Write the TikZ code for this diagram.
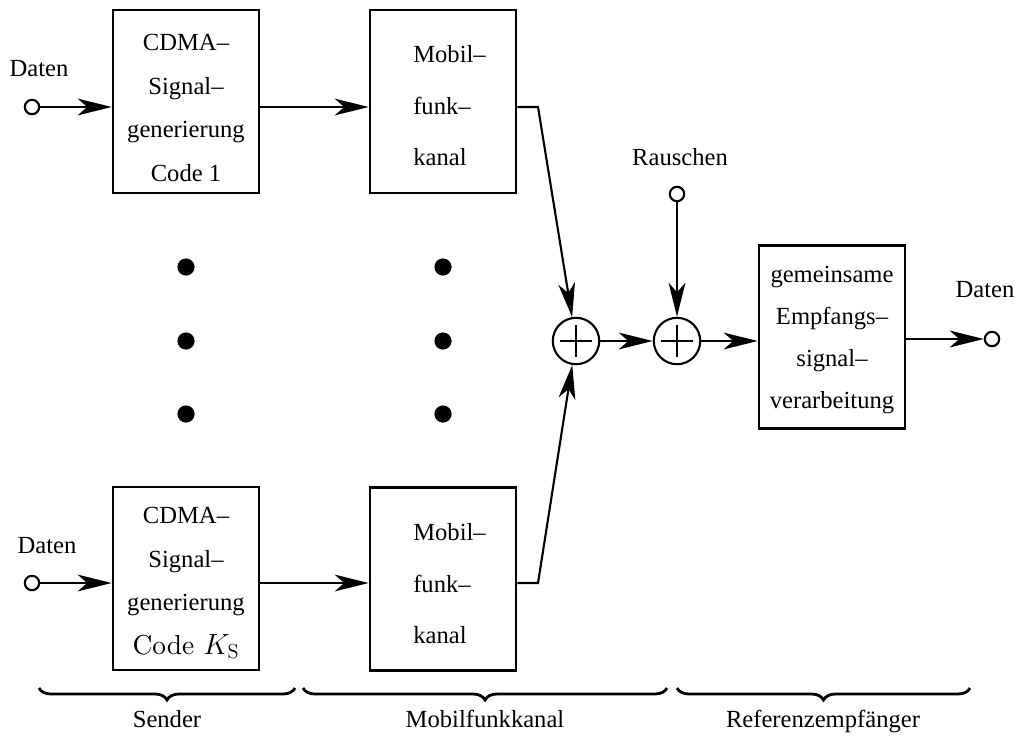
\documentclass[tikz,border=0pt]{standalone}
\usepackage[no-math]{fontspec}
\setmainfont{Liberation Serif}
\newfontfamily\lmfont{lmroman10-regular.otf}
\usetikzlibrary{arrows.meta,decorations.pathreplacing}

\begin{document}
\begin{tikzpicture}[x=0.025cm,y=-0.025cm,
  every node/.style={font=\fontsize{17.5}{21}\selectfont, inner sep=0pt},
  blk/.style={draw, line width=1.9pt, minimum width=3.65cm, minimum height=4.575cm},
  port/.style={draw, circle, line width=1.5pt, fill=white, minimum size=0.36cm},
  adder/.style={draw, circle, line width=1.5pt, minimum size=1.16cm},
  bigdot/.style={circle, fill=black, minimum size=0.43cm},
  conn/.style={line width=1.5pt, -{Stealth[length=0.85cm,width=0.42cm,inset=0.24cm]}},
  wire/.style={line width=1.5pt},
  brc/.style={decorate, decoration={brace, mirror, amplitude=0.3cm}, line width=2pt},
  stxt/.style={align=center, font=\fontsize{17.5}{30.9}\selectfont},
  mtxt/.style={align=left, anchor=west, font=\fontsize{17.5}{36.6}\selectfont},
  rtxt/.style={align=center, font=\fontsize{17.5}{29.7}\selectfont}
]
\useasboundingbox (0,0) rectangle (1016,735);

% transmitter blocks
\node[blk] (s1) at (186,101.5) {};
\node[blk] (s2) at (186,578.5) {};
\node[stxt] (s1t) at (186,108) {CDMA--\\Signal--\\generierung\\Code 1};
\node[stxt] (s2t) at (186,583) {CDMA--\\Signal--\\generierung\\{\lmfont\fontsize{19.5}{30.9}\selectfont Code $K_{\mathrm{S}}$}};

% channel blocks
\node[blk] (m1) at (443,101.5) {};
\node[blk] (m2) at (443,579) {};
\node[mtxt] (m1t) at (413,106) {Mobil--\\funk--\\kanal};
\node[mtxt] (m2t) at (413,584) {Mobil--\\funk--\\kanal};

% receiver block
\node[blk] (r) at (832,337) {};
\node[rtxt] (rt) at (832,340) {gemeinsame\\Empfangs--\\signal--\\verarbeitung};

% terminals and adders
\node[port] (in1) at (32,107) {};
\node[port] (in2) at (32,583) {};
\node[port] (noise) at (677,194) {};
\node[port] (out) at (992,339) {};
\node[adder] (a1) at (576,341) {};
\node[adder] (a2) at (677,341) {};
\foreach \a in {a1,a2}{
  \draw[wire] (\a.center) +(-16,0) -- +(16,0);
  \draw[wire] (\a.center) +(0,-16) -- +(0,16);
}

% continuation dots
\foreach \y [count=\i] in {267,341,414}{
  \node[bigdot] (ds\i) at (186,\y) {};
  \node[bigdot] (dm\i) at (443,\y) {};
}

% labels
\node[anchor=base] (l1) at (39,77) {Daten};
\node[anchor=base] (l2) at (47,553) {Daten};
\node[anchor=base] (l3) at (985,297) {Daten};
\node[anchor=base] (l4) at (680,165) {Rauschen};

% bend points of the channel outputs
\coordinate (k1) at (538,107);
\coordinate (k2) at (538,583);

% signal flow
\draw[conn] (in1) -- (in1 -| s1.west);
\draw[conn] (in2) -- (in2 -| s2.west);
\draw[conn] (s1.east |- in1) -- (m1.west |- in1);
\draw[conn] (s2.east |- in2) -- (m2.west |- in2);
\draw[conn] (m1.east |- in1) -- (k1) -- (a1);
\draw[conn] (m2.east |- in2) -- (k2) -- (a1);
\draw[conn] (a1) -- (a2);
\draw[conn] (noise) -- (a2);
\draw[conn] (a2) -- (r.west |- a2);
\draw[conn] (r.east |- out) -- (out);

% section braces
\draw[brc] (39,688) -- (295,688);
\draw[brc] (303,688) -- (667,688);
\draw[brc] (677,688) -- (970,688);
\node[anchor=base] (b1) at (167,727) {Sender};
\node[anchor=base] (b2) at (485,727) {Mobilfunkkanal};
\node[anchor=base] (b3) at (823,727) {Referenzempfänger};
\end{tikzpicture}
\end{document}
